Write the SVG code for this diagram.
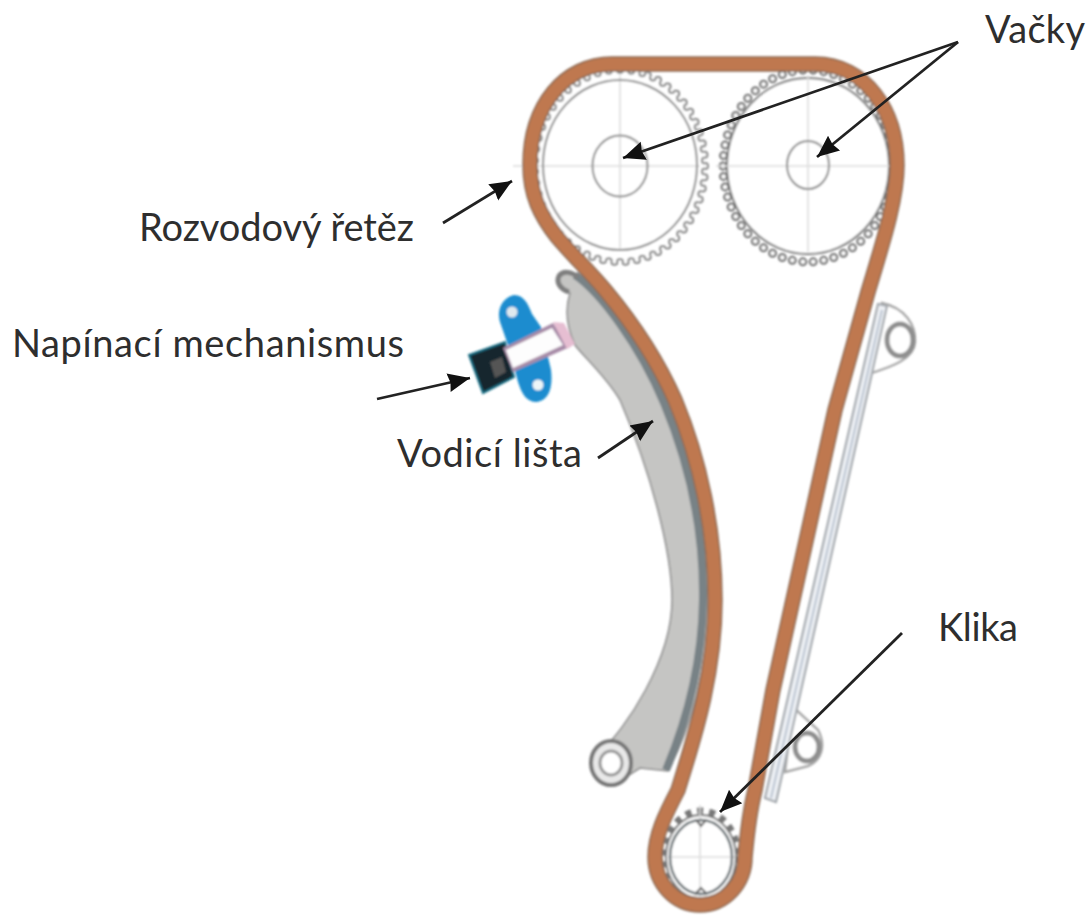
<svg xmlns="http://www.w3.org/2000/svg" width="1089" height="915" viewBox="0 0 1089 915">
<style>
.lbl{font-family:"Lato","Open Sans",sans-serif;font-size:38px;fill:#2e2e2e}
.cross{stroke:#dcdcdc;stroke-width:1.6;fill:none}
.ring{fill:none;stroke:#8a8a8a;stroke-width:2}
.arrow{stroke:#222;stroke-width:2.8;fill:none;marker-end:url(#head)}
.waveA{fill:none;stroke:#858585;stroke-width:8;stroke-linecap:round;stroke-dasharray:0 12}
.waveB{fill:none;stroke:#fff;stroke-width:4;stroke-linecap:round;stroke-dasharray:0 12}
.off{stroke-dashoffset:6}
.toothA{fill:none;stroke:#777;stroke-width:9;stroke-linecap:round;stroke-dasharray:0 11}
.toothB{fill:none;stroke:#fff;stroke-width:4.500;stroke-linecap:round;stroke-dasharray:0 11}
</style>
<defs>
<marker id="head" markerUnits="userSpaceOnUse" markerWidth="24" markerHeight="22" refX="22" refY="11" orient="auto">
<path d="M0 1.500L22 11L0 20.500L2 11Z" fill="#111"/>
</marker>
<filter id="soft" x="-5%" y="-5%" width="110%" height="110%"><feGaussianBlur stdDeviation="0.8"/></filter>
<clipPath id="inL"><ellipse cx="620" cy="166" rx="85" ry="96"/></clipPath>
</defs>
<rect width="1089" height="915" fill="#fff"/>
<g filter="url(#soft)">
<g id="rail">
<path d="M882 303C905 308 916 325 915 342C914 358 895 366 868 374Z" fill="#fff" stroke="#a8a8a8" stroke-width="2.500"/>
<ellipse cx="900" cy="340" rx="13" ry="16" fill="#fff" stroke="#8f8f8f" stroke-width="5"/>
<path d="M793 707L818 730C826 745 822 760 808 766L785 772Z" fill="#fff" stroke="#a8a8a8" stroke-width="2.500"/>
<ellipse cx="807" cy="747" rx="12" ry="14" fill="#fff" stroke="#8f8f8f" stroke-width="5"/>
<path d="M878 304L887 306L776 802L765 798Z" fill="#eef1f5" stroke="#a4a9ae" stroke-width="2.200"/>
<path d="M882 310L771 798" stroke="#b9c3d0" stroke-width="2" fill="none"/>
</g>
<g id="guide">
<path d="M570 293C562 290 556 284 558 276C561 270 570 270 578 277C605 298 645 350 668 405C695 465 710 530 709 600C708 670 690 730 668 771L640 768L615 784L600 752C625 730 672 660 672 600C672 550 650 470 620 400C605 375 582 355 575 345C568 330 564 312 570 293Z" fill="#c5c5c3" stroke="#8c8c8c" stroke-width="1.500"/>
<path d="M575 275C600 292 640 345 664 403C690 465 704 530 703 600C702 670 685 725 666 770" fill="none" stroke="#788286" stroke-width="8"/>
<path d="M569 292C560 289 556 282 559 276C563 270 572 272 578 277" fill="none" stroke="#7f7f7f" stroke-width="5"/>
<ellipse cx="611" cy="763" rx="20" ry="22" fill="#e8e8e8" stroke="#777" stroke-width="4"/>
<ellipse cx="611" cy="763" rx="11" ry="12" fill="#fff" stroke="#999" stroke-width="3"/>
</g>
<g id="tensioner">
<path d="M500 322C496 308 504 297 514 295C524 295 528 304 532 314L541 327L551 370C553 388 549 400 537 402C526 402 522 394 518 382L508 345Z" fill="#1a8ccf"/>
<circle cx="512" cy="312" r="5.500" fill="#dfe9ef"/>
<circle cx="538" cy="385" r="5.500" fill="#eef5f8"/>
<path d="M469 355L505 342L514 377L483 393Z" fill="#18262d" stroke="#1c6f86" stroke-width="2"/>
<path d="M490 362L502 357L506 372L495 378Z" fill="#555"/>
<path d="M503 348L553 323L570 347L513 372Z" fill="#a88ca8"/>
<path d="M506 350L552 328L563 345L513 368Z" fill="#fdfdfd"/>
<path d="M553 322L564 323L575 344L567 349Z" fill="#e6bed2"/>
</g>
<g id="gear-left">
<ellipse cx="620" cy="166" rx="85" ry="96" class="waveA" pathLength="600"/>
<ellipse cx="620" cy="166" rx="85" ry="96" class="waveB" pathLength="600"/>
<ellipse cx="620" cy="166" rx="85" ry="96" fill="#fff"/>
<g clip-path="url(#inL)">
<ellipse cx="620" cy="166" rx="85" ry="96" class="waveA off" pathLength="600"/>
<ellipse cx="620" cy="166" rx="85" ry="96" class="waveB off" pathLength="600"/>
</g>
<path d="M513 166H700M620 75V250" class="cross"/>
<ellipse cx="620" cy="165" rx="77" ry="85" class="ring"/>
<ellipse cx="620" cy="166" rx="27.500" ry="30.500" class="ring"/>
</g>
<g id="gear-right">
<ellipse cx="808" cy="166" rx="85" ry="96" class="toothA" pathLength="594"/>
<ellipse cx="808" cy="166" rx="85" ry="96" class="toothB" pathLength="594"/>
<ellipse cx="808" cy="166" rx="81" ry="88" fill="#fff" stroke="#777" stroke-width="2"/>
<path d="M716 166H905M808 75V252" class="cross"/>
<ellipse cx="808" cy="165" rx="21" ry="24" class="ring"/>
</g>
<g id="crank">
<ellipse cx="701" cy="857" rx="37" ry="46" fill="none" stroke="#777" stroke-width="7" stroke-dasharray="6 6"/>
<ellipse cx="701" cy="857" rx="35" ry="42" fill="#fff" stroke="#777" stroke-width="2"/>
<path d="M668 857H735M700 805V905" class="cross"/>
<ellipse cx="701" cy="857" rx="31" ry="37" fill="none" stroke="#6c7478" stroke-width="2.500"/>
<path d="M696 820L701 826L706 820M696 893L701 888L706 893" fill="none" stroke="#666" stroke-width="2"/>
</g>
<g id="chain">
<path d="M612 64L815 64C865 64 897 110 897 165C897 200 882 245 868 292L835 410L773 690L755 790C750 810 747 835 745 857A45 48 0 0 1 655 857C655 835 665 815 678 790C690 750 715 680 715 600C715 530 700 460 675 400C655 355 630 320 605 290C590 272 575 258 557 237C540 215 530 195 530 165C530 105 565 64 612 64Z" fill="none" stroke="#8d6b54" stroke-width="15.500"/>
<path d="M612 64L815 64C865 64 897 110 897 165C897 200 882 245 868 292L835 410L773 690L755 790C750 810 747 835 745 857A45 48 0 0 1 655 857C655 835 665 815 678 790C690 750 715 680 715 600C715 530 700 460 675 400C655 355 630 320 605 290C590 272 575 258 557 237C540 215 530 195 530 165C530 105 565 64 612 64Z" fill="none" stroke="#bf7850" stroke-width="12.500"/>
</g>
</g>
<g id="connectors">
<path class="arrow" d="M958 42L623 158"/>
<path class="arrow" d="M958 42L817 157"/>
<path class="arrow" d="M443 223L512 181"/>
<path class="arrow" d="M377 399L470 378"/>
<path class="arrow" d="M598 458L653 421"/>
<path class="arrow" d="M902 633L720 812"/>
</g>
<g id="labels">
<text class="lbl" x="985" y="43" textLength="100">Vačky</text>
<text class="lbl" x="139" y="241" textLength="275">Rozvodový řetěz</text>
<text class="lbl" x="12" y="357" textLength="392">Napínací mechanismus</text>
<text class="lbl" x="397" y="467" textLength="185">Vodicí lišta</text>
<text class="lbl" x="938" y="641" textLength="80">Klika</text>
</g>
</svg>
